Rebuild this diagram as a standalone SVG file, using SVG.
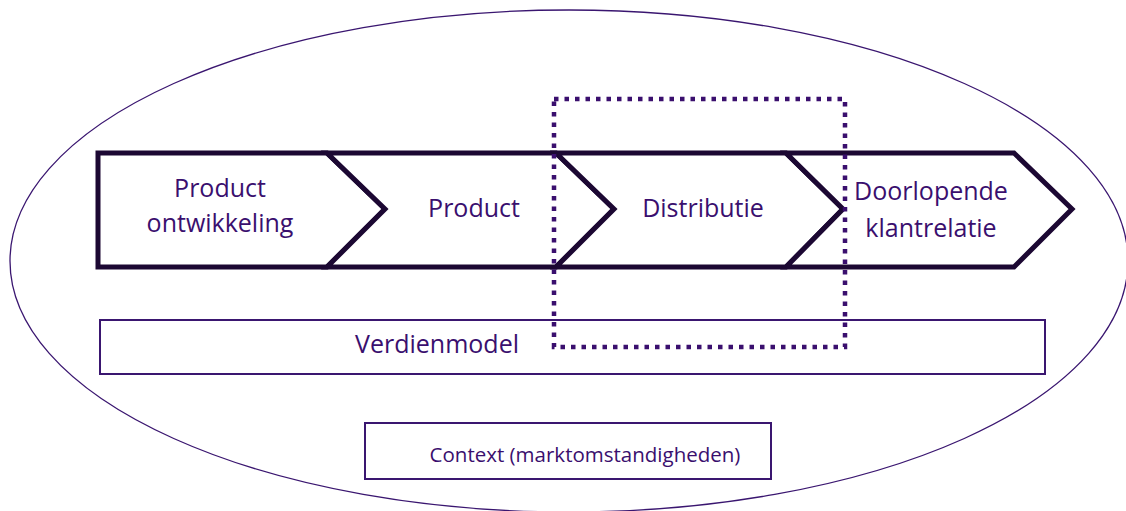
<svg xmlns="http://www.w3.org/2000/svg" width="1126" height="511" viewBox="0 0 1126 511">
  <style>
    .ring { fill: #ffffff; stroke: #3a1670; stroke-width: 1.3; }
    .step { fill: #ffffff; stroke: #1c0833; stroke-width: 5; stroke-linejoin: miter; }
    .box { fill: #ffffff; stroke: #3a1670; stroke-width: 2; }
    .focus { fill: none; stroke: #3a0f6e; stroke-width: 4.5; stroke-dasharray: 4.5 6; }
    .lbl { font-family: "Open Sans", "Noto Sans", sans-serif; font-size: 25px; fill: #3a0f6e; text-anchor: middle; }
    .small { font-size: 20.5px; }
  </style>

  <!-- outer context ellipse -->
  <g id="context-ellipse">
    <ellipse class="ring" cx="569" cy="261" rx="559" ry="251"/>
  </g>

  <!-- value chain steps -->
  <g id="step-productontwikkeling">
    <polygon class="step" points="98,153 327,153 385,209 327,267 98,267"/>
    <text class="lbl" x="220" y="197">Product</text>
    <text class="lbl" x="220" y="232">ontwikkeling</text>
  </g>
  <g id="step-product">
    <polygon class="step" points="327,153 556,153 614,209 556,267 327,267 385,209"/>
    <text class="lbl" x="474" y="217">Product</text>
  </g>
  <g id="step-distributie">
    <polygon class="step" points="556,153 786,153 843,209 786,267 556,267 614,209"/>
    <text class="lbl" x="703" y="217">Distributie</text>
  </g>
  <g id="step-klantrelatie">
    <polygon class="step" points="786,153 1014,153 1072,209 1014,267 786,267 843,209"/>
    <text class="lbl" x="931" y="200">Doorlopende</text>
    <text class="lbl" x="931" y="237">klantrelatie</text>
  </g>

  <!-- revenue model bar -->
  <g id="verdienmodel">
    <rect class="box" x="100" y="320" width="945" height="54"/>
    <text class="lbl" x="437" y="353">Verdienmodel</text>
  </g>

  <!-- market context box -->
  <g id="context">
    <rect class="box" x="365" y="423" width="406" height="56"/>
    <text class="lbl small" x="585" y="462">Context (marktomstandigheden)</text>
  </g>

  <!-- highlighted focus area -->
  <g id="connectors">
    <rect class="focus" x="554" y="99" width="291" height="248"/>
  </g>
</svg>
